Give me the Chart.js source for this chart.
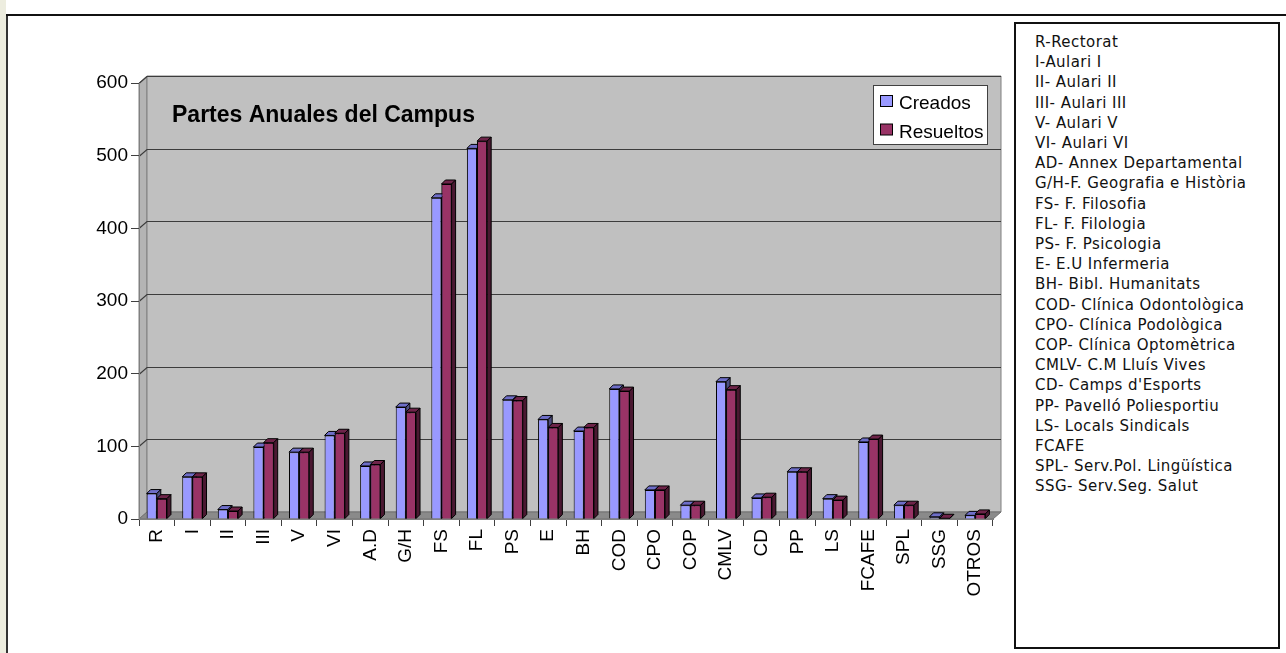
<!DOCTYPE html>
<html>
<head>
<meta charset="utf-8">
<title>Partes Anuales del Campus</title>
<script src="https://cdn.jsdelivr.net/npm/chart.js@4.4.1/dist/chart.umd.min.js"></script>
<style>
  html, body { margin: 0; padding: 0; background: #fff; }
  body { width: 1286px; height: 653px; position: relative; overflow: hidden; }
  #tira { position: absolute; left: 0; top: 0; width: 6px; height: 653px; background: #ededdf; }
  #bordeIzq { position: absolute; left: 6px; top: 14px; width: 2px; height: 639px; background: #333; }
  #bordeSup { position: absolute; left: 6px; top: 14px; width: 1280px; height: 2px; background: #111; }
  #grafico { position: absolute; left: 0; top: 0; }
  #leyenda {
    position: absolute; left: 1014px; top: 22px; width: 243px; height: 615px;
    border: 2px solid #111; background: #fff;
    padding: 8px 0 0 19px;
    font-family: "DejaVu Sans", sans-serif; font-size: 15px; line-height: 20.2px;
    letter-spacing: 0.45px; color: #111; white-space: nowrap;
  }
</style>
</head>
<body>
<div id="tira"></div>
<div id="bordeIzq"></div>
<div id="bordeSup"></div>
<canvas id="grafico" width="1286" height="653"></canvas>
<div id="leyenda"></div>

<script>
// datos del grafico
const categorias = ["R", "I", "II", "III", "V", "VI", "A.D", "G/H", "FS", "FL", "PS", "E",
  "BH", "COD", "CPO", "COP", "CMLV", "CD", "PP", "LS", "FCAFE", "SPL", "SSG", "OTROS"];
const creados =   [35, 58, 13, 99, 92, 115, 73, 154, 442, 510, 164, 137, 121, 179, 40, 19, 189, 29, 65, 28, 106, 19, 3, 5];
const resueltos = [28, 58, 11, 105, 92, 118, 75, 147, 461, 520, 163, 126, 126, 176, 40, 19, 178, 30, 65, 26, 110, 19, 1, 7];
const ticksY = [0, 100, 200, 300, 400, 500, 600];
const series = ["Creados", "Resueltos"];
const titulo = "Partes Anuales del Campus";

// lista de la derecha
const nombres = ["R-Rectorat", "I-Aulari I", "II- Aulari II", "III- Aulari III", "V- Aulari V",
  "VI- Aulari VI", "AD- Annex Departamental", "G/H-F. Geografia e Història", "FS- F. Filosofia",
  "FL- F. Filologia", "PS- F. Psicologia", "E- E.U Infermeria", "BH- Bibl. Humanitats",
  "COD- Clínica Odontològica", "CPO- Clínica Podològica", "COP- Clínica Optomètrica",
  "CMLV- C.M Lluís Vives", "CD- Camps d'Esports", "PP- Pavelló Poliesportiu",
  "LS- Locals Sindicals", "FCAFE", "SPL- Serv.Pol. Lingüística", "SSG- Serv.Seg. Salut"];

const caja = document.getElementById("leyenda");
nombres.forEach(function (n) {
  const d = document.createElement("div");
  d.textContent = n;
  caja.appendChild(d);
});

// colores tipo excel
const azul = { frente: "#9999FF", arriba: "#6E6EC8", lado: "#4D4D80" };
const granate = { frente: "#993366", arriba: "#6E2449", lado: "#4A1831" };

const DX = 8, DY = 7;   // profundidad de las paredes
const D = 4;            // profundidad de las barras

function poligono(ctx, pts, relleno, linea) {
  ctx.beginPath();
  ctx.moveTo(pts[0][0], pts[0][1]);
  for (let i = 1; i < pts.length; i++) ctx.lineTo(pts[i][0], pts[i][1]);
  ctx.closePath();
  if (relleno) { ctx.fillStyle = relleno; ctx.fill(); }
  if (linea) { ctx.strokeStyle = linea; ctx.lineWidth = 1; ctx.stroke(); }
}

function caras(ctx, bar, col) {
  const x0 = bar.x - bar.width / 2;
  const x1 = bar.x + bar.width / 2;
  const top = bar.y, base = bar.base;
  // tapa
  poligono(ctx, [[x0, top], [x0 + D, top - D], [x1 + D, top - D], [x1, top]], col.arriba, "#000");
  // lateral
  poligono(ctx, [[x1, top], [x1 + D, top - D], [x1 + D, base - D], [x1, base]], col.lado, "#000");
}

const plugin3d = {
  id: "efecto3d",
  beforeDraw: function (chart) {
    const ctx = chart.ctx;
    const a = chart.chartArea;
    const y = chart.scales.y;
    ctx.save();
    // pared izquierda
    poligono(ctx, [[a.left, a.top], [a.left + DX, a.top - DY], [a.left + DX, a.bottom - DY], [a.left, a.bottom]], "#B4B4B4", "#808080");
    // pared del fondo
    poligono(ctx, [[a.left + DX, a.top - DY], [a.right + DX, a.top - DY], [a.right + DX, a.bottom - DY], [a.left + DX, a.bottom - DY]], "#C0C0C0", "#808080");
    // suelo
    poligono(ctx, [[a.left, a.bottom], [a.left + DX, a.bottom - DY], [a.right + DX, a.bottom - DY], [a.right, a.bottom]], "#8A8A8A", "#707070");
    // lineas de division en el fondo
    ctx.strokeStyle = "#3c3c3c";
    ctx.lineWidth = 1.2;
    ticksY.forEach(function (v) {
      if (v === 0) return;
      const py = Math.round(y.getPixelForValue(v)) + 0.5;
      ctx.beginPath();
      ctx.moveTo(a.left, py);
      ctx.lineTo(a.left + DX, py - DY);
      ctx.lineTo(a.right + DX, py - DY);
      ctx.stroke();
    });
    ctx.restore();
  },
  afterDatasetsDraw: function (chart) {
    const ctx = chart.ctx;
    const m0 = chart.getDatasetMeta(0).data;
    const m1 = chart.getDatasetMeta(1).data;
    ctx.save();
    for (let i = 0; i < m0.length; i++) {
      caras(ctx, m0[i], azul);
      m1[i].draw(ctx);        // la granate tapa el lateral de la azul
      caras(ctx, m1[i], granate);
    }
    ctx.restore();
  },
  afterDraw: function (chart) {
    const ctx = chart.ctx;
    ctx.save();
    // titulo dentro del area
    ctx.fillStyle = "#000";
    ctx.font = "bold 23px 'Liberation Sans', Arial, sans-serif";
    ctx.textBaseline = "alphabetic";
    ctx.fillText(titulo, 172, 122);
    // leyenda
    ctx.fillStyle = "#fff";
    ctx.fillRect(873.5, 85.5, 114, 59);
    ctx.strokeStyle = "#404040";
    ctx.lineWidth = 1;
    ctx.strokeRect(873.5, 85.5, 114, 59);
    ctx.font = "19px 'Liberation Sans', Arial, sans-serif";
    const cols = [azul.frente, granate.frente];
    const filas = [109, 137.5];
    series.forEach(function (s, k) {
      ctx.fillStyle = cols[k];
      ctx.fillRect(880.5, filas[k] - 13.5, 12, 11);
      ctx.strokeStyle = "#000";
      ctx.strokeRect(880.5, filas[k] - 13.5, 12, 11);
      ctx.fillStyle = "#000";
      ctx.fillText(s, 899, filas[k]);
    });
    ctx.restore();
  }
};

const fuenteEje = { family: "'Liberation Sans', Arial, sans-serif", size: 19 };

new Chart(document.getElementById("grafico"), {
  type: "bar",
  data: {
    labels: categorias,
    datasets: [
      { label: series[0], data: creados, backgroundColor: azul.frente, borderColor: "#000", borderWidth: 1,
        barPercentage: 1, categoryPercentage: 0.57 },
      { label: series[1], data: resueltos, backgroundColor: granate.frente, borderColor: "#000", borderWidth: 1,
        barPercentage: 1, categoryPercentage: 0.57 }
    ]
  },
  options: {
    responsive: false,
    animation: false,
    layout: { padding: { top: 83, right: 293, left: 0, bottom: 0 } },
    plugins: { legend: { display: false }, title: { display: false }, tooltip: { enabled: false } },
    scales: {
      x: {
        grid: { drawOnChartArea: false, drawTicks: true, tickLength: 7, color: "#404040", offset: true },
        border: { display: true, color: "#808080", width: 1 },
        ticks: { font: fuenteEje, color: "#000", minRotation: 90, maxRotation: 90, padding: 3, autoSkip: false },
        afterFit: function (s) { s.height = 134; }
      },
      y: {
        min: 0, max: 600,
        afterBuildTicks: function (s) { s.ticks = ticksY.map(function (v) { return { value: v }; }); },
        grid: { drawOnChartArea: false, drawTicks: true, tickLength: 8, color: "#404040" },
        border: { display: true, color: "#808080", width: 1 },
        ticks: { font: fuenteEje, color: "#000", padding: 3 },
        afterFit: function (s) { s.width = 139; }
      }
    }
  },
  plugins: [plugin3d]
});
</script>
</body>
</html>
